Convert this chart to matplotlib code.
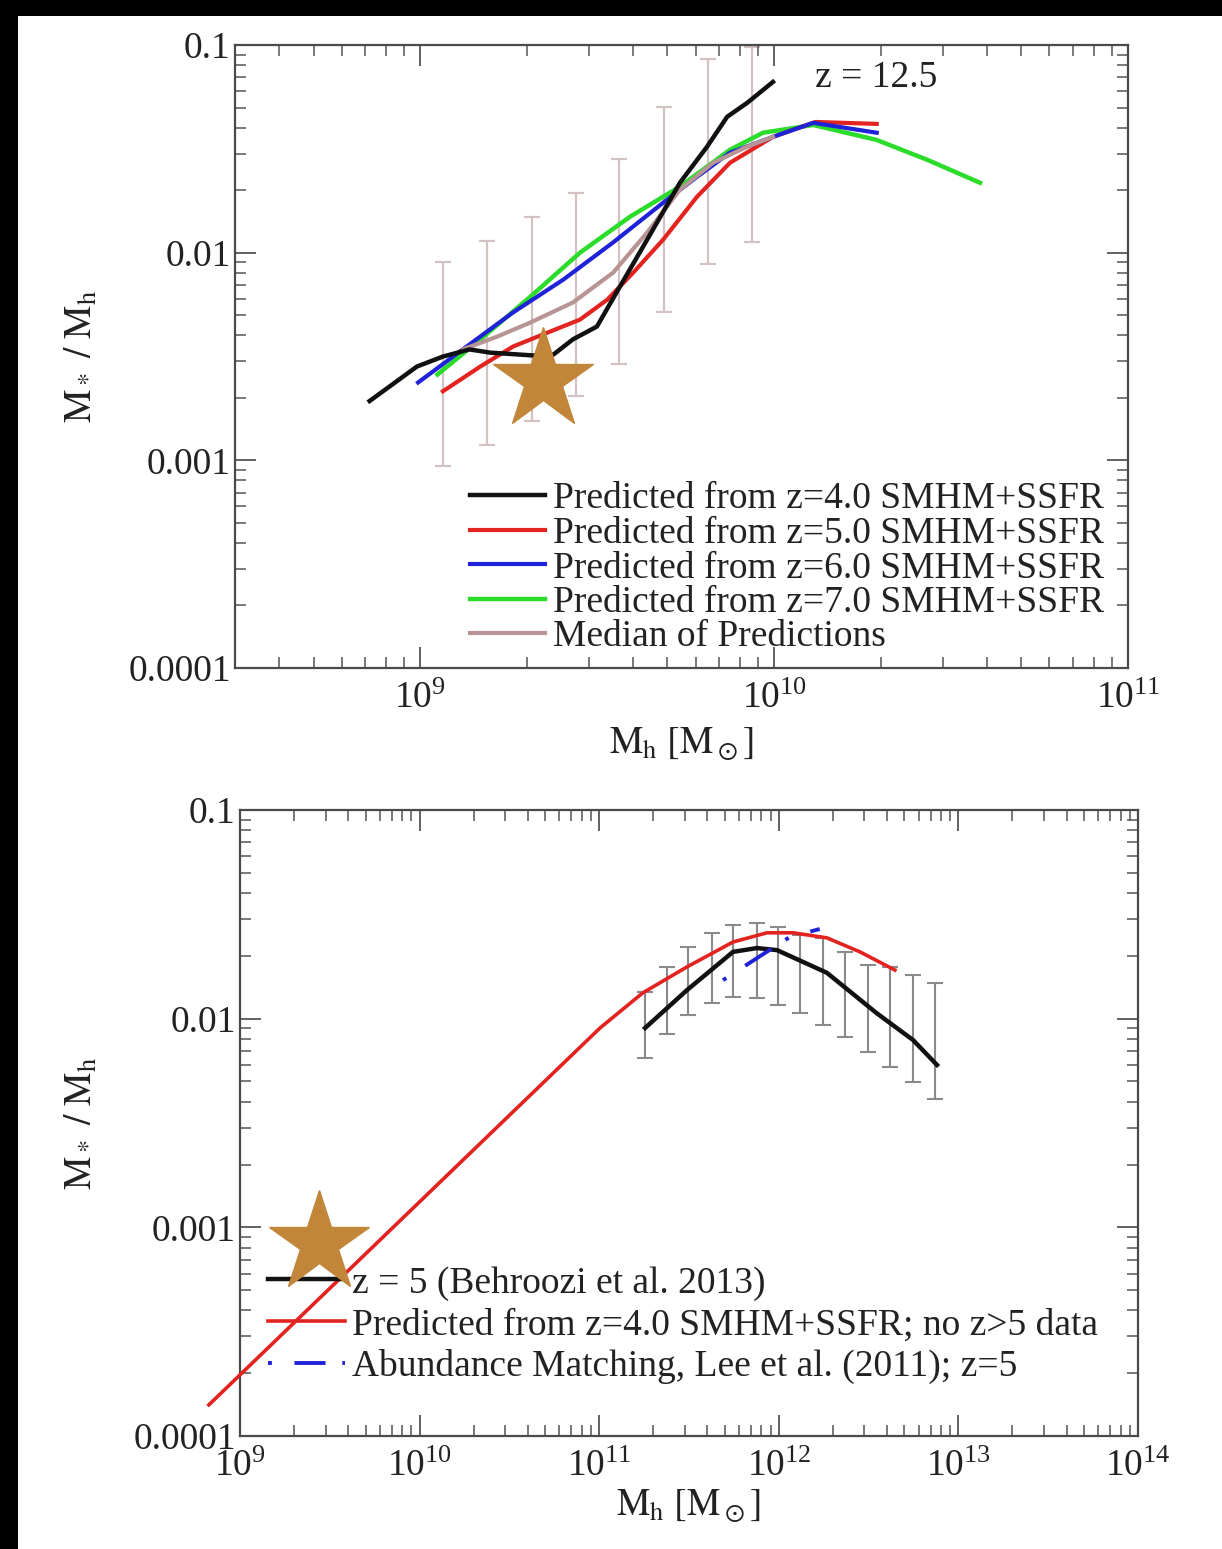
import numpy as np
import matplotlib
matplotlib.use('Agg')
import matplotlib.pyplot as plt
from matplotlib.ticker import LogLocator, FuncFormatter, NullFormatter
from matplotlib.patches import Rectangle

plt.rcParams['font.family'] = ['Liberation Serif', 'DejaVu Serif']
plt.rcParams['mathtext.fontset'] = 'stix'

# ---------------- top panel data (z = 12.5) ----------------
z4_x = [7.2e8, 9.8e8, 1.16e9, 1.38e9, 1.58e9, 2.08e9, 2.38e9, 2.70e9, 3.16e9, 3.67e9, 4.38e9, 5.42e9, 6.47e9, 7.37e9, 8.39e9, 9.93e9]
z4_y = [1.93e-3, 2.83e-3, 3.16e-3, 3.42e-3, 3.30e-3, 3.20e-3, 3.23e-3, 3.82e-3, 4.41e-3, 6.87e-3, 1.155e-2, 2.17e-2, 3.24e-2, 4.51e-2, 5.26e-2, 6.64e-2]

z5_x = [1.16e9, 1.48e9, 1.83e9, 2.29e9, 2.83e9, 3.38e9, 4.00e9, 4.86e9, 6.06e9, 7.51e9, 9.93e9, 1.31e10, 1.95e10]
z5_y = [2.15e-3, 2.83e-3, 3.53e-3, 4.12e-3, 4.76e-3, 5.94e-3, 8.01e-3, 1.155e-2, 1.86e-2, 2.71e-2, 3.61e-2, 4.26e-2, 4.17e-2]

z6_x = [9.87e8, 1.32e9, 1.83e9, 2.54e9, 3.51e9, 4.86e9, 6.06e9, 7.51e9, 9.93e9, 1.29e10, 1.95e10]
z6_y = [2.37e-3, 3.42e-3, 5.15e-3, 7.42e-3, 1.12e-2, 1.74e-2, 2.32e-2, 3.03e-2, 3.61e-2, 4.22e-2, 3.78e-2]

z7_x = [1.12e9, 1.48e9, 2.05e9, 2.83e9, 3.92e9, 5.42e9, 7.51e9, 9.31e9, 1.29e10, 1.95e10, 2.71e10, 3.82e10]
z7_y = [2.59e-3, 3.82e-3, 6.14e-3, 1.0e-2, 1.49e-2, 2.08e-2, 3.13e-2, 3.78e-2, 4.12e-2, 3.49e-2, 2.80e-2, 2.17e-2]

med_x = [1.32e9, 1.65e9, 2.05e9, 2.70e9, 3.51e9, 4.38e9, 5.42e9, 6.73e9, 8.39e9, 9.93e9]
med_y = [3.42e-3, 3.94e-3, 4.61e-3, 5.75e-3, 8.01e-3, 1.25e-2, 2.01e-2, 2.71e-2, 3.24e-2, 3.61e-2]

err1_x = [1.16e9, 1.55e9, 2.07e9, 2.76e9, 3.65e9, 4.89e9, 6.51e9, 8.67e9]
err1_lo = [9.35e-4, 1.18e-3, 1.54e-3, 2.03e-3, 2.92e-3, 5.20e-3, 8.85e-3, 1.13e-2]
err1_hi = [9.06e-3, 1.14e-2, 1.49e-2, 1.94e-2, 2.83e-2, 5.03e-2, 8.57e-2, 9.8e-2]

star1_x, star1_y = 2.22e9, 2.45e-3

top_labels = ['Predicted from z=4.0 SMHM+SSFR', 'Predicted from z=5.0 SMHM+SSFR',
              'Predicted from z=6.0 SMHM+SSFR', 'Predicted from z=7.0 SMHM+SSFR',
              'Median of Predictions']

# ---------------- bottom panel data (z = 5) ----------------
pred_x = [6.71e8, 1.01e11, 1.75e11, 3.08e11, 5.56e11, 8.60e11, 1.20e12, 1.85e12, 2.83e12, 4.43e12]
pred_y = [1.41e-4, 9.02e-3, 1.33e-2, 1.77e-2, 2.33e-2, 2.58e-2, 2.58e-2, 2.44e-2, 2.09e-2, 1.71e-2]

beh_x = [1.80e11, 3.08e11, 5.56e11, 7.56e11, 9.78e11, 1.85e12, 3.52e12, 5.59e12, 7.60e12]
beh_y = [9.02e-3, 1.37e-2, 2.09e-2, 2.18e-2, 2.13e-2, 1.66e-2, 1.06e-2, 7.90e-3, 6.0e-3]

err2_x = [1.80e11, 2.39e11, 3.12e11, 4.25e11, 5.56e11, 7.56e11, 9.91e11, 1.31e12, 1.76e12, 2.34e12, 3.14e12, 4.16e12, 5.59e12, 7.41e12]
err2_lo = [6.48e-3, 8.45e-3, 1.04e-2, 1.19e-2, 1.27e-2, 1.26e-2, 1.16e-2, 1.06e-2, 9.33e-3, 8.17e-3, 6.92e-3, 5.87e-3, 4.98e-3, 4.12e-3]
err2_hi = [1.34e-2, 1.77e-2, 2.21e-2, 2.58e-2, 2.81e-2, 2.88e-2, 2.75e-2, 2.52e-2, 2.44e-2, 2.09e-2, 1.81e-2, 1.77e-2, 1.62e-2, 1.48e-2]

lee_x = [4.89e11, 8.05e11, 1.15e12, 1.69e12]
lee_y = [1.53e-2, 2.02e-2, 2.46e-2, 2.69e-2]

star2_x, star2_y = 2.75e9, 8.4e-4

bottom_labels = ['z = 5 (Behroozi et al. 2013)',
                 'Predicted from z=4.0 SMHM+SSFR; no z>5 data',
                 'Abundance Matching, Lee et al. (2011); z=5']

# ---------------- styles ----------------
C_BLACK = '#111111'
C_RED = '#e3231f'
C_BLUE = '#1f23d8'
C_GREEN = '#2bdc2b'
C_MED = '#b99494'
C_ERR1 = '#d2c2c2'
C_ERR2 = '#8a8a8a'
C_STAR = '#c2863a'
FS = 27

W, H = 1222, 1549
fig = plt.figure(figsize=(W / 100, H / 100), dpi=100)
fig.patch.set_facecolor('white')
fig.patches.append(Rectangle((0, 1 - 16 / H), 1, 16 / H, transform=fig.transFigure,
                             facecolor='black', edgecolor='none', zorder=-5))
fig.patches.append(Rectangle((0, 0), 18 / W, 1, transform=fig.transFigure,
                             facecolor='black', edgecolor='none', zorder=-5))

ax1 = fig.add_axes([235 / W, 1 - 668 / H, 893 / W, 623 / H])
ax2 = fig.add_axes([240 / W, 1 - 1436 / H, 898 / W, 626 / H])


def style_axes(ax, xlim):
    ax.set_xscale('log')
    ax.set_yscale('log')
    ax.set_xlim(*xlim)
    ax.set_ylim(1e-4, 0.1)
    for s in ax.spines.values():
        s.set_color('#4a4a4a')
        s.set_linewidth(1.6)
    ax.xaxis.set_major_locator(LogLocator(base=10, numticks=20))
    ax.xaxis.set_minor_locator(LogLocator(base=10, subs=np.arange(2, 10), numticks=40))
    ax.yaxis.set_major_locator(LogLocator(base=10, numticks=20))
    ax.yaxis.set_minor_locator(LogLocator(base=10, subs=np.arange(2, 10), numticks=40))
    ax.xaxis.set_minor_formatter(NullFormatter())
    ax.yaxis.set_minor_formatter(NullFormatter())
    ax.yaxis.set_major_formatter(FuncFormatter(lambda v, p: '%g' % v))
    ax.tick_params(which='both', direction='in', top=True, right=True, colors='#555555',
                   labelcolor='#222222', labelsize=FS)
    ax.tick_params(which='major', length=15, width=1.3)
    ax.tick_params(which='minor', length=8, width=1.1)
    ax.tick_params(axis='x', which='major', pad=10)
    ax.tick_params(axis='y', which='major', pad=3)


style_axes(ax1, (3e8, 1e11))
style_axes(ax2, (1e9, 1e14))

# ---- top panel ----
y1 = np.sqrt(np.array(err1_lo) * np.array(err1_hi))
ax1.errorbar(err1_x, y1, yerr=[y1 - np.array(err1_lo), np.array(err1_hi) - y1], fmt='none',
             ecolor=C_ERR1, elinewidth=1.6, capsize=6, capthick=1.6, zorder=1)
ax1.plot(z4_x, z4_y, color=C_BLACK, lw=3.2, label=top_labels[0], zorder=5)
ax1.plot(z5_x, z5_y, color=C_RED, lw=3.0, label=top_labels[1], zorder=4)
ax1.plot(z6_x, z6_y, color=C_BLUE, lw=3.0, label=top_labels[2], zorder=4)
ax1.plot(z7_x, z7_y, color=C_GREEN, lw=3.2, label=top_labels[3], zorder=3)
ax1.plot(med_x, med_y, color=C_MED, lw=3.0, label=top_labels[4], zorder=4)
ax1.plot([star1_x], [star1_y], marker='*', ms=76, color=C_STAR, mec=C_STAR, zorder=10, ls='none')
ax1.text((815 - 235) / 893, (668 - 78) / 623, 'z = 12.5', transform=ax1.transAxes,
         ha='left', va='center', fontsize=FS, color='#222222')
leg1 = ax1.legend(loc='upper left', bbox_to_anchor=((470 - 235) / 893, (668 - 482) / 623),
                  frameon=False, fontsize=FS, handlelength=2.0, handletextpad=0.22,
                  labelspacing=0.0, borderpad=0, borderaxespad=0)
for t in leg1.get_texts():
    t.set_color('#222222')
ax1.set_xlabel(r'$\mathrm{M_h\ [M_\odot]}$', fontsize=FS, color='#222222')
ax1.set_ylabel(r'$\mathrm{M_*\ /\ M_h}$', fontsize=FS, color='#222222')
ax1.xaxis.set_label_coords(0.5, -(726 - 668) / 623)
ax1.yaxis.set_label_coords(-(235 - 100) / 893, 0.5)

# ---- bottom panel ----
y2 = np.sqrt(np.array(err2_lo) * np.array(err2_hi))
ax2.errorbar(err2_x, y2, yerr=[y2 - np.array(err2_lo), np.array(err2_hi) - y2], fmt='none',
             ecolor=C_ERR2, elinewidth=1.5, capsize=6, capthick=1.5, zorder=1)
ax2.plot(beh_x, beh_y, color=C_BLACK, lw=3.2, label=bottom_labels[0], zorder=4)
ax2.plot(pred_x, pred_y, color=C_RED, lw=2.6, label=bottom_labels[1], zorder=5, clip_on=False)
ax2.plot(lee_x, lee_y, color=C_BLUE, lw=2.8, ls=(0, (1.0, 5.8, 8, 4.3)), label=bottom_labels[2], zorder=6)
ax2.plot([star2_x], [star2_y], marker='*', ms=76, color=C_STAR, mec=C_STAR, zorder=10, ls='none')
leg2 = ax2.legend(loc='upper left', bbox_to_anchor=((268 - 240) / 898, (1436 - 1266) / 626),
                  frameon=False, fontsize=FS, handlelength=2.05, handletextpad=0.18,
                  labelspacing=0.19, borderpad=0, borderaxespad=0)
for t in leg2.get_texts():
    t.set_color('#222222')
ax2.set_xlabel(r'$\mathrm{M_h\ [M_\odot]}$', fontsize=FS, color='#222222')
ax2.set_ylabel(r'$\mathrm{M_*\ /\ M_h}$', fontsize=FS, color='#222222')
ax2.xaxis.set_label_coords(0.5, -(1488 - 1436) / 626)
ax2.yaxis.set_label_coords(-(240 - 100) / 898, 0.5)

fig.savefig('out.png', dpi=100, facecolor='white')
